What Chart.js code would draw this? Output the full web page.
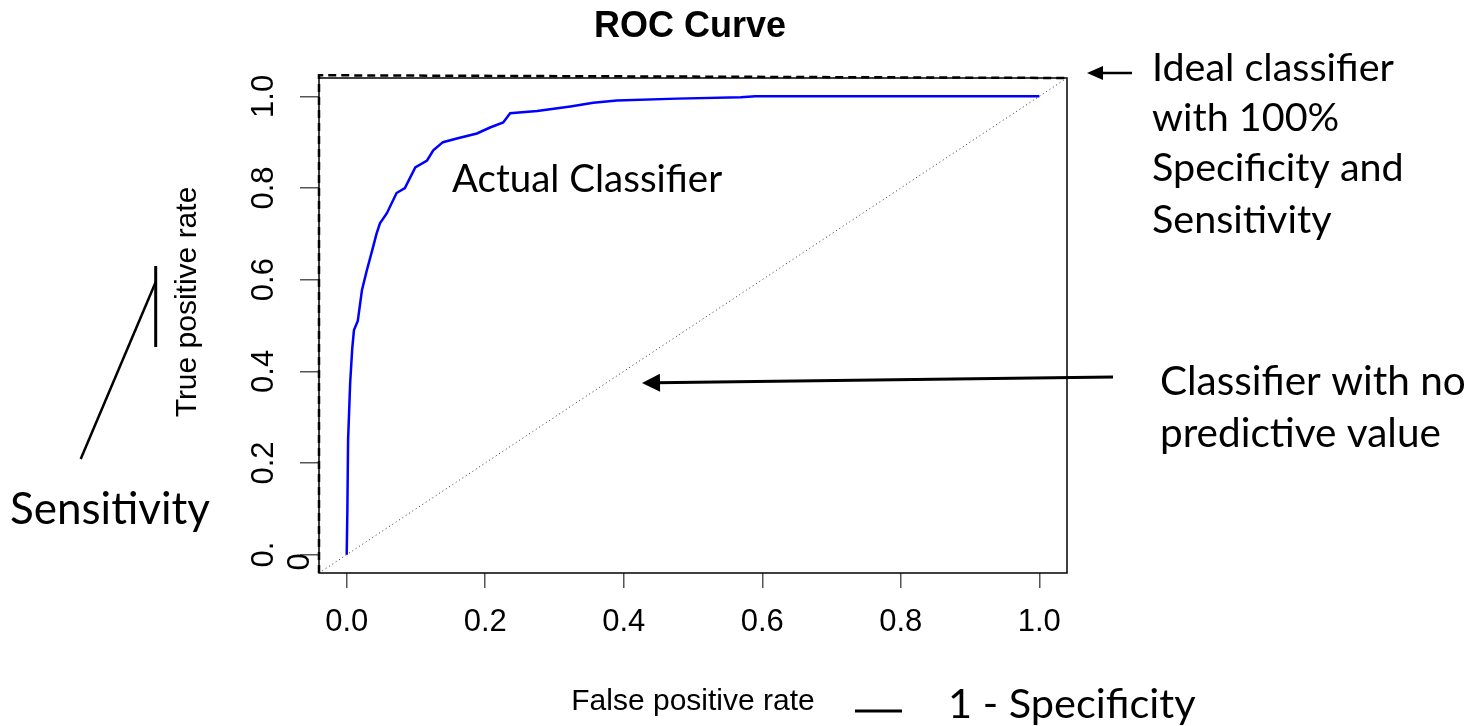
<!DOCTYPE html>
<html>
<head>
<meta charset="utf-8">
<title>ROC Curve</title>
<script src="https://cdn.jsdelivr.net/npm/chart.js@4.4.0/dist/chart.umd.min.js"></script>
<style>
  html, body { margin: 0; padding: 0; background: #fff; }
</style>
</head>
<body>
<canvas id="rocChart" width="1470" height="726"></canvas>
<script>
// ROC curve
var fpr = [0, 0.001, 0.002, 0.005, 0.008, 0.0105, 0.016, 0.022, 0.029, 0.037, 0.043, 0.048,
  0.058, 0.072, 0.084, 0.099, 0.116, 0.125, 0.139, 0.159, 0.188, 0.207, 0.226, 0.236,
  0.275, 0.323, 0.356, 0.39, 0.477, 0.569, 0.59, 1.0];
var tpr = [0, 0.1, 0.25, 0.375, 0.45, 0.49, 0.51, 0.577, 0.62, 0.665, 0.70, 0.723,
  0.745, 0.789, 0.80, 0.845, 0.86, 0.882, 0.90, 0.908, 0.919, 0.932, 0.943, 0.963,
  0.968, 0.978, 0.986, 0.991, 0.995, 0.998, 1.0, 1.0];

// no-skill diagonal and the hand drawn "ideal" line along the box edge
var diagX = [-0.04, 1.04];
var diagY = [-0.04, 1.04];
var idealX = [-0.04, -0.04, 1.04];
var idealY = [-0.04, 1.046, 1.04];

var xTicks = [0, 0.2, 0.4, 0.6, 0.8, 1.0];
var xTickLabels = ["0.0", "0.2", "0.4", "0.6", "0.8", "1.0"];
var yTicks = [0, 0.2, 0.4, 0.6, 0.8, 1.0];
var yTickLabels = ["0.", "0.2", "0.4", "0.6", "0.8", "1.0"];

function pts(xs, ys) {
  return xs.map(function (x, i) { return { x: x, y: ys[i] }; });
}

var rFont = '"Liberation Sans", Arial, sans-serif';
var noteFont = 'Lato, "Open Sans", sans-serif';

function arrow(ctx, x1, y1, x2, y2, head, half, lw) {
  var a = Math.atan2(y2 - y1, x2 - x1);
  ctx.lineWidth = lw;
  ctx.beginPath();
  ctx.moveTo(x1, y1);
  ctx.lineTo(x2 - Math.cos(a) * head * 0.8, y2 - Math.sin(a) * head * 0.8);
  ctx.stroke();
  ctx.beginPath();
  ctx.moveTo(x2, y2);
  ctx.lineTo(x2 - Math.cos(a) * head - Math.sin(a) * half, y2 - Math.sin(a) * head + Math.cos(a) * half);
  ctx.lineTo(x2 - Math.cos(a) * head + Math.sin(a) * half, y2 - Math.sin(a) * head - Math.cos(a) * half);
  ctx.closePath();
  ctx.fill();
}

var plotBox = {
  id: 'plotBox',
  beforeDatasetsDraw: function (chart) {
    var a = chart.chartArea, ctx = chart.ctx;
    ctx.save();
    ctx.strokeStyle = '#000';
    ctx.lineWidth = 1.5;
    ctx.strokeRect(a.left, a.top, a.right - a.left, a.bottom - a.top);
    ctx.restore();
  }
};

var notes = {
  id: 'notes',
  afterDraw: function (chart) {
    var ctx = chart.ctx;
    ctx.save();
    ctx.fillStyle = '#000';
    ctx.strokeStyle = '#000';
    ctx.textBaseline = 'middle';

    ctx.font = 'bold 36px ' + rFont;
    ctx.textAlign = 'center';
    ctx.fillText('ROC Curve', 690, 27);

    // y axis title
    ctx.save();
    ctx.translate(188, 302);
    ctx.rotate(-Math.PI / 2);
    ctx.font = '30px ' + rFont;
    ctx.fillText('True positive rate', 0, 0);
    ctx.restore();

    // leftover "0" of the bottom tick label
    ctx.save();
    ctx.translate(300, 562);
    ctx.rotate(-Math.PI / 2);
    ctx.font = '31px ' + rFont;
    ctx.fillText('0', 0, 0);
    ctx.restore();

    ctx.textAlign = 'left';
    ctx.font = '38.5px ' + noteFont;
    ctx.fillText('Actual Classifier', 452, 180);
    ctx.font = '39.5px ' + noteFont;
    ctx.fillText('Ideal classifier', 1152, 68);
    ctx.fillText('with 100%', 1152, 118);
    ctx.fillText('Specificity and', 1152, 168);
    ctx.fillText('Sensitivity', 1152, 220);
    ctx.font = '40.5px ' + noteFont;
    ctx.fillText('Classifier with no', 1160, 382);
    ctx.fillText('predictive value', 1160, 434);
    ctx.font = '44px ' + noteFont;
    ctx.fillText('Sensitivity', 10, 510);
    ctx.font = '41.5px ' + noteFont;
    ctx.fillText('1 - Specificity', 948, 705);

    arrow(ctx, 1132, 73, 1087, 73, 16, 7, 2.5);
    arrow(ctx, 1113, 377, 642, 383, 18, 9, 3);

    ctx.lineWidth = 3;
    ctx.beginPath();
    ctx.moveTo(155.7, 266);
    ctx.lineTo(155.7, 347);
    ctx.stroke();
    ctx.lineWidth = 2.5;
    ctx.beginPath();
    ctx.moveTo(155.7, 282);
    ctx.lineTo(80.7, 459);
    ctx.stroke();
    ctx.lineWidth = 3;
    ctx.beginPath();
    ctx.moveTo(855, 711);
    ctx.lineTo(902, 711);
    ctx.stroke();
    ctx.restore();
  }
};

new Chart(document.getElementById('rocChart'), {
  type: 'scatter',
  data: {
    datasets: [
      {
        label: 'Ideal',
        data: pts(idealX, idealY),
        showLine: true,
        borderColor: '#000',
        borderWidth: 2.5,
        borderDash: [8, 5],
        pointRadius: 0,
        clip: false
      },
      {
        label: 'ROC',
        data: pts(fpr, tpr),
        showLine: true,
        borderColor: '#0000ff',
        borderWidth: 2.5,
        pointRadius: 0,
        tension: 0
      },
      {
        label: 'No skill',
        data: pts(diagX, diagY),
        showLine: true,
        borderColor: '#333',
        borderWidth: 1,
        borderDash: [1, 3],
        pointRadius: 0,
        clip: false
      }
    ]
  },
  options: {
    responsive: false,
    animation: false,
    layout: { padding: { left: 0, right: 403, top: 78, bottom: 0 } },
    plugins: {
      legend: { display: false },
      tooltip: { enabled: false }
    },
    scales: {
      x: {
        type: 'linear',
        min: -0.04,
        max: 1.04,
        afterBuildTicks: function (s) { s.ticks = xTicks.map(function (v) { return { value: v }; }); },
        afterFit: function (s) { s.height = 153; },
        ticks: {
          callback: function (v) { return xTickLabels[xTicks.indexOf(v)]; },
          font: { family: rFont, size: 31 },
          color: '#000',
          padding: 16,
          maxRotation: 0,
          autoSkip: false
        },
        grid: { drawOnChartArea: false, drawTicks: true, tickLength: 15, color: '#555', lineWidth: 1.5 },
        border: { display: false },
        title: {
          display: true,
          text: 'False positive rate',
          font: { family: rFont, size: 30 },
          color: '#000',
          padding: { top: 0, bottom: 6 }
        }
      },
      y: {
        type: 'linear',
        min: -0.04,
        max: 1.04,
        afterBuildTicks: function (s) { s.ticks = yTicks.map(function (v) { return { value: v }; }); },
        afterFit: function (s) { s.width = 319; },
        ticks: {
          callback: function (v) { return yTickLabels[yTicks.indexOf(v)]; },
          font: { family: rFont, size: 31 },
          color: '#000',
          padding: 13.5,
          minRotation: 90,
          maxRotation: 90,
          crossAlign: 'center',
          autoSkip: false
        },
        grid: { drawOnChartArea: false, drawTicks: true, tickLength: 19, color: '#555', lineWidth: 1.5 },
        border: { display: false }
      }
    }
  },
  plugins: [plotBox, notes]
});
</script>
</body>
</html>
